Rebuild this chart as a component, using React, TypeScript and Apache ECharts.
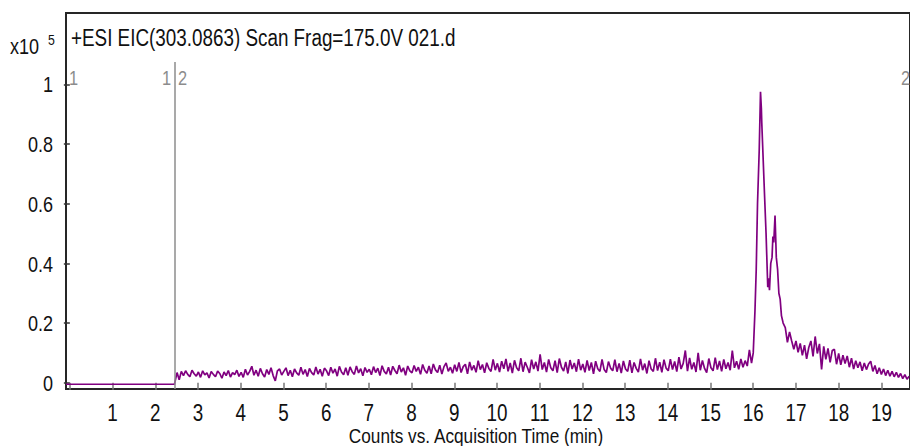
import React, { useEffect, useRef } from "react";
import * as echarts from "echarts";

// Intensity values are in thousandths of the x10^5 unit (i.e. 975 -> 0.975 x10^5)
const flatTimes = [-0.09, 2.45];
const flatValues = [-5, -5];

const noiseStart = 2.46;
const noiseStep = 0.05;
const noiseValues = [
  // 2.46 - 2.96
  2, 34, 10, 38, 24, 40, 28, 20, 42, 30, 22,
  // 3
  36, 18, 40, 26, 33, 16, 38, 28, 20, 39, 31, 15, 36, 24, 41, 19, 34, 27, 42, 21,
  // 4
  35, 18, 45, 26, 38, 55, 25, 42, 22, 48, 30, 19, 44, 28, 50, 24, 6, 40, 46, 26,
  // 5
  38, 50, 24, 42, 20, 46, 33, 25, 52, 28, 44, 21, 48, 34, 26, 53, 29, 45, 22, 49,
  // 6
  40, 24, 52, 32, 46, 22, 55, 36, 27, 50, 25, 53, 37, 28, 56, 33, 47, 23, 51, 35,
  // 7
  45, 27, 54, 34, 49, 24, 57, 38, 29, 52, 26, 55, 41, 30, 59, 36, 50, 25, 56, 40,
  // 8
  33, 58, 38, 52, 28, 61, 42, 32, 56, 30, 63, 43, 34, 59, 29, 54, 66, 38, 52, 32,
  // 9
  60, 38, 68, 34, 54, 62, 30, 70, 42, 58, 35, 74, 44, 61, 33, 67, 48, 38, 78, 42,
  // 10
  65, 36, 72, 47, 80, 38, 66, 32, 75, 50, 40, 82, 37, 69, 52, 33, 77, 46, 70, 39,
  // 11
  95, 44, 68, 36, 78, 50, 40, 74, 34, 81, 52, 39, 70, 31, 76, 46, 66, 37, 79, 42,
  // 12
  63, 35, 75, 41, 68, 30, 72, 47, 38, 78, 44, 34, 71, 49, 40, 77, 37, 65, 32, 73,
  // 13
  46, 38, 76, 33, 68, 48, 36, 80, 42, 64, 31, 74, 46, 38, 82, 41, 69, 35, 77, 49,
  // 14
  40, 79, 44, 71, 37, 86, 46, 65, 108, 39, 83, 45, 68, 36, 100, 42, 75, 48, 34, 81,
  // 15
  50, 40, 84, 44, 73, 38, 78, 47, 68, 42, 108, 50, 72, 45, 80, 52, 74, 56, 110, 66,
];

const peakTimes = [
  16.0, 16.04, 16.07, 16.1, 16.14, 16.17, 16.19, 16.2, 16.26, 16.3, 16.34, 16.36,
  16.38, 16.41, 16.44, 16.46, 16.48, 16.51, 16.54, 16.57, 16.6, 16.63, 16.66, 16.7,
];
const peakValues = [
  100, 240, 380, 600, 780, 975, 920, 870, 645, 500, 320, 350,
  310, 400, 420, 490, 470, 560, 420, 380, 300, 280, 225, 200,
];

const decayStart = 16.75;
const decayStep = 0.05;
const decayValues = [
  185, 135, 170, 140, 112,
  140, 102, 132, 92, 126, 80, 118, 140, 88, 155, 98, 130, 45, 122, 78, 115, 68, 108, 112, 62,
  98, 60, 92, 64, 90, 52, 82, 46, 74, 50, 70, 40, 66, 44, 63, 72, 38, 58, 30, 50,
  28, 46, 24, 42, 22, 38, 20, 35, 18, 31, 14, 27, 12, 22,
];

const xTickValues = [0, 1, 2, 3, 4, 5, 6, 7, 8, 9, 10, 11, 12, 13, 14, 15, 16, 17, 18, 19];
const xLabelValues = [1, 2, 3, 4, 5, 6, 7, 8, 9, 10, 11, 12, 13, 14, 15, 16, 17, 18, 19];
const yTickValues = [0, 0.2, 0.4, 0.6, 0.8, 1];

const segmentTime = 2.45;
const segmentLineTop = 1.075;

const FONT = "'Liberation Sans', Arial, sans-serif";
const NARROW = 0.82;

function buildData(): [number, number][] {
  const out: [number, number][] = [];
  flatTimes.forEach((t, i) => out.push([t, flatValues[i] / 1000]));
  noiseValues.forEach((v, i) => out.push([+(noiseStart + i * noiseStep).toFixed(3), v / 1000]));
  peakTimes.forEach((t, i) => out.push([t, peakValues[i] / 1000]));
  decayValues.forEach((v, i) => out.push([+(decayStart + i * decayStep).toFixed(3), v / 1000]));
  return out;
}

function narrowText(
  text: string,
  x: number,
  y: number,
  fontSize: number,
  align: string,
  fill = "#111"
) {
  return {
    type: "text",
    x,
    y,
    scaleX: NARROW,
    silent: true,
    style: {
      text,
      fontSize,
      fontFamily: FONT,
      fill,
      align,
      verticalAlign: "middle",
    },
  };
}

export default function App() {
  const ref = useRef<HTMLDivElement>(null);
  useEffect(() => {
    if (!ref.current) return;
    const chart = echarts.init(ref.current, undefined, { renderer: "svg" });
    chart.setOption({
      animation: false,
      backgroundColor: "#ffffff",
      textStyle: { fontFamily: FONT },
      grid: {
        left: 66,
        top: 13,
        right: -2,
        bottom: 57,
        show: true,
        borderColor: "#262626",
        borderWidth: 2,
        containLabel: false,
      },
      xAxis: {
        type: "value",
        min: -0.09,
        max: 19.67,
        axisLine: { show: false },
        splitLine: { show: false },
        axisTick: {
          show: true,
          length: 7,
          inside: false,
          customValues: xTickValues,
          lineStyle: { color: "#777", width: 1.5 },
        },
        axisLabel: { show: false },
      },
      yAxis: {
        type: "value",
        min: -0.021,
        max: 1.239,
        axisLine: { show: false },
        splitLine: { show: false },
        axisTick: {
          show: true,
          length: 6,
          customValues: yTickValues,
          lineStyle: { color: "#333", width: 1.5 },
        },
        axisLabel: { show: false },
      },
      series: [
        {
          type: "line",
          data: buildData(),
          showSymbol: false,
          symbol: "none",
          lineStyle: { color: "#800080", width: 1.7 },
          z: 3,
          markLine: {
            silent: true,
            symbol: "none",
            label: { show: false },
            lineStyle: { color: "#8c8c8c", width: 1.5, type: "solid" },
            data: [
              [
                { coord: [segmentTime, -0.021] },
                { coord: [segmentTime, segmentLineTop] },
              ],
            ],
          },
        },
      ],
    });

    // Tick labels placed through the axes' own scales
    const labelGraphics: any[] = [];
    xLabelValues.forEach((v) => {
      const px = chart.convertToPixel({ xAxisIndex: 0 }, v) as number;
      labelGraphics.push(narrowText(String(v), px, 412.5, 23, "center"));
    });
    yTickValues.forEach((v) => {
      const py = chart.convertToPixel({ yAxisIndex: 0 }, v) as number;
      labelGraphics.push(narrowText(String(v), 53, py + 0.5, 22, "right"));
    });

    chart.setOption({
      graphic: [
        ...labelGraphics,
        narrowText("x10", 10, 46, 22, "left"),
        {
          type: "text",
          x: 48,
          y: 40,
          scaleX: NARROW,
          silent: true,
          style: { text: "5", fontSize: 15, fontFamily: FONT, fill: "#111", align: "left", verticalAlign: "middle" },
        },
        narrowText("+ESI EIC(303.0863) Scan Frag=175.0V 021.d", 71, 38, 23, "left"),
        narrowText("1", 69, 78, 20, "left", "#8c8c8c"),
        narrowText("1", 171, 78, 20, "right", "#8c8c8c"),
        narrowText("2", 178, 78, 20, "left", "#8c8c8c"),
        narrowText("2", 910, 78, 20, "right", "#8c8c8c"),
        narrowText("Counts vs. Acquisition Time (min)", 476, 436, 21, "center"),
      ],
    });
    return () => chart.dispose();
  }, []);
  return (
    <div
      ref={ref}
      style={{ position: "fixed", left: 0, top: 0, width: 910, height: 446, background: "#fff" }}
    />
  );
}
